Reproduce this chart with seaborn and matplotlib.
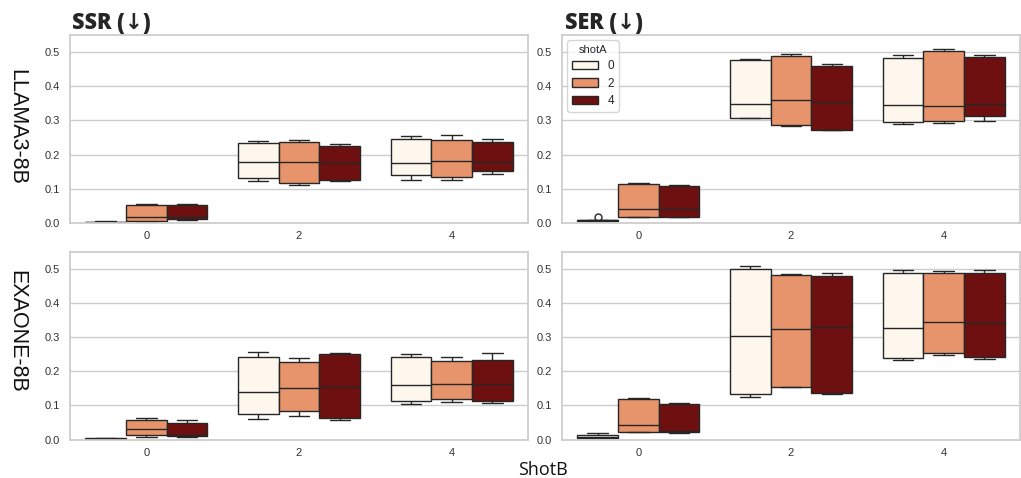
import pandas as pd
import matplotlib
matplotlib.use("Agg")
import matplotlib.pyplot as plt
import seaborn as sns

sns.set_theme(style="whitegrid")
plt.rcParams["font.family"] = ["Liberation Sans", "DejaVu Sans"]

# categories
shot_b = [0, 2, 4]
shot_a = [0, 2, 4]
models = ["LLAMA3-8B", "EXAONE-8B"]
metrics = ["SSR", "SER"]

# five values per box (min, q1, median, q3, max), ordered shotB then shotA
ssr_llama3 = [
    [0.001, 0.002, 0.003, 0.004, 0.006], [0.004, 0.007, 0.018, 0.054, 0.057], [0.009, 0.011, 0.017, 0.053, 0.055],
    [0.122, 0.132, 0.179, 0.235, 0.240], [0.110, 0.118, 0.177, 0.236, 0.244], [0.123, 0.127, 0.175, 0.224, 0.232],
    [0.127, 0.140, 0.176, 0.245, 0.254], [0.127, 0.134, 0.181, 0.243, 0.258], [0.142, 0.152, 0.177, 0.236, 0.246],
]
ser_llama3 = [
    [0.005, 0.007, 0.008, 0.010, 0.017], [0.017, 0.018, 0.042, 0.115, 0.118], [0.017, 0.018, 0.042, 0.109, 0.110],
    [0.306, 0.307, 0.347, 0.476, 0.481], [0.285, 0.288, 0.360, 0.488, 0.493], [0.271, 0.273, 0.353, 0.459, 0.464],
    [0.291, 0.296, 0.344, 0.484, 0.491], [0.293, 0.298, 0.341, 0.503, 0.510], [0.299, 0.313, 0.348, 0.487, 0.491],
]
ssr_exaone = [
    [0.001, 0.002, 0.002, 0.003, 0.003], [0.006, 0.012, 0.030, 0.056, 0.062], [0.007, 0.010, 0.012, 0.047, 0.056],
    [0.060, 0.074, 0.139, 0.242, 0.257], [0.070, 0.082, 0.151, 0.227, 0.238], [0.057, 0.063, 0.155, 0.250, 0.254],
    [0.103, 0.114, 0.160, 0.242, 0.249], [0.111, 0.119, 0.162, 0.230, 0.241], [0.106, 0.113, 0.163, 0.233, 0.252],
]
ser_exaone = [
    [0.003, 0.003, 0.008, 0.014, 0.018], [0.021, 0.022, 0.042, 0.118, 0.121], [0.018, 0.022, 0.025, 0.105, 0.108],
    [0.124, 0.132, 0.304, 0.499, 0.509], [0.155, 0.155, 0.324, 0.481, 0.484], [0.132, 0.136, 0.329, 0.479, 0.488],
    [0.232, 0.237, 0.327, 0.487, 0.497], [0.248, 0.252, 0.345, 0.487, 0.493], [0.236, 0.242, 0.342, 0.487, 0.496],
]

panels = {
    ("LLAMA3-8B", "SSR"): ssr_llama3,
    ("LLAMA3-8B", "SER"): ser_llama3,
    ("EXAONE-8B", "SSR"): ssr_exaone,
    ("EXAONE-8B", "SER"): ser_exaone,
}

rows = []
for (model, metric), boxes in panels.items():
    i = 0
    for b in shot_b:
        for a in shot_a:
            for v in boxes[i]:
                rows.append({"model": model, "metric": metric, "shotB": b, "shotA": a, "value": v})
            i += 1
df = pd.DataFrame(rows)

cmap = sns.color_palette("OrRd", as_cmap=True)
palette = {a: cmap(a / max(shot_a)) for a in shot_a}

fig = plt.figure(figsize=(10.21, 4.78), dpi=100)
lefts = [70 / 1021, 562 / 1021]
bottoms = [1 - 223 / 478, 1 - 439.5 / 478]
w = 458 / 1021
h = 188 / 478

for r, model in enumerate(models):
    for c, metric in enumerate(metrics):
        ax = fig.add_axes([lefts[c], bottoms[r], w, h])
        sub = df[(df.model == model) & (df.metric == metric)]
        show_leg = (r == 0 and c == 1)
        sns.boxplot(data=sub, x="shotB", y="value", hue="shotA", palette=palette,
                    linewidth=1, fliersize=5, ax=ax, legend=show_leg)
        ax.set_ylim(0, 0.55)
        ax.set_yticks([0.0, 0.1, 0.2, 0.3, 0.4, 0.5])
        ax.set_xlabel("")
        ax.set_ylabel("")
        ax.tick_params(axis="y", labelsize=8, pad=1, colors="#333333")
        ax.tick_params(axis="x", labelsize=8, pad=0, colors="#333333")
        if show_leg:
            ax.legend(title="shotA", loc="upper left", fontsize=8.5, title_fontsize=8,
                      handlelength=2.2, borderaxespad=0.45, labelspacing=0.45)

# titles and labels
title_font = ["Open Sans", "DejaVu Sans"]
fig.text(72 / 1021, 1 - 29 / 478, "SSR (↓)", fontsize=15.5, fontweight="heavy",
         family=title_font, va="baseline")
fig.text(565 / 1021, 1 - 29 / 478, "SER (↓)", fontsize=15.5, fontweight="heavy",
         family=title_font, va="baseline")
fig.text(17 / 1021, 1 - 127 / 478, "LLAMA3-8B", fontsize=15.5, rotation=-90,
         ha="center", va="center", color="#111111")
fig.text(17 / 1021, 1 - 331 / 478, "EXAONE-8B", fontsize=15.5, rotation=-90,
         ha="center", va="center", color="#111111")
fig.text(543 / 1021, 1 - 470 / 478, "ShotB", fontsize=13, family=title_font,
         ha="center", va="center", color="#111111")

fig.savefig("out.png", dpi=100)
